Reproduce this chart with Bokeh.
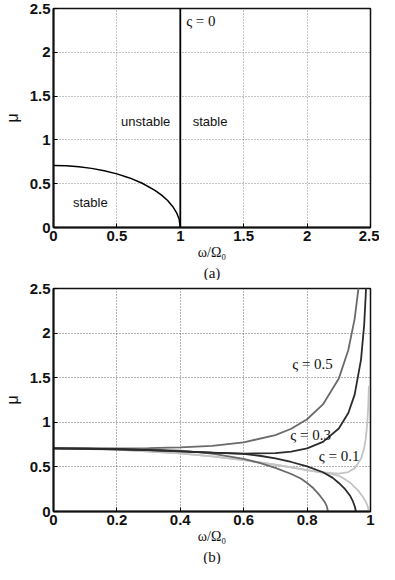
from bokeh.plotting import figure
from bokeh.layouts import column
from bokeh.models import Range1d, FixedTicker, Label, Title
from bokeh.embed import file_html
from bokeh.resources import INLINE

# ---------------- data: panel (a), zeta = 0 ----------------
xa_ticks = [0, 0.5, 1, 1.5, 2, 2.5]
xa_tick_labels = ["0", "0.5", "1", "1.5", "2", "2.5"]
y_ticks = [0, 0.5, 1, 1.5, 2, 2.5]
y_tick_labels = ["0", "0.5", "1", "1.5", "2", "2.5"]

x_s0 = [0, 0.1, 0.2, 0.3, 0.4, 0.5, 0.6, 0.7, 0.8, 0.85, 0.9, 0.94, 0.97, 0.99, 1.0]
mu_s0 = [0.707, 0.704, 0.693, 0.675, 0.648, 0.612, 0.566, 0.505, 0.424, 0.372, 0.308, 0.241, 0.171, 0.10, 0.0]
x_vert = [1, 1]
mu_vert = [0, 2.5]

# ---------------- data: panel (b) ----------------
xb_ticks = [0, 0.2, 0.4, 0.6, 0.8, 1]
xb_tick_labels = ["0", "0.2", "0.4", "0.6", "0.8", "1"]

x_s05_up = [0, 0.2, 0.3, 0.4, 0.5, 0.6, 0.7, 0.75, 0.8, 0.85, 0.9, 0.93, 0.95, 0.963, 0.97]
mu_s05_up = [0.707, 0.708, 0.710, 0.718, 0.736, 0.775, 0.857, 0.928, 1.034, 1.20, 1.49, 1.81, 2.16, 2.53, 2.8]
x_s05_lo = [0, 0.1, 0.2, 0.3, 0.4, 0.5, 0.6, 0.65, 0.7, 0.75, 0.78, 0.8, 0.82, 0.84, 0.855, 0.862, 0.866]
mu_s05_lo = [0.707, 0.706, 0.703, 0.696, 0.682, 0.65, 0.59, 0.545, 0.49, 0.42, 0.37, 0.32, 0.26, 0.18, 0.11, 0.06, 0.0]

x_s03_up = [0, 0.2, 0.3, 0.4, 0.5, 0.6, 0.7, 0.75, 0.8, 0.85, 0.9, 0.93, 0.95, 0.97, 0.98, 0.985, 0.987]
mu_s03_up = [0.707, 0.698, 0.688, 0.674, 0.66, 0.649, 0.654, 0.671, 0.707, 0.78, 0.93, 1.105, 1.31, 1.70, 2.09, 2.43, 2.61]
x_s03_lo = [0, 0.1, 0.2, 0.3, 0.4, 0.5, 0.6, 0.65, 0.7, 0.75, 0.8, 0.85, 0.88, 0.9, 0.92, 0.935, 0.945, 0.951, 0.954]
mu_s03_lo = [0.707, 0.705, 0.698, 0.688, 0.674, 0.66, 0.645, 0.625, 0.595, 0.555, 0.505, 0.44, 0.38, 0.32, 0.25, 0.18, 0.11, 0.05, 0.0]

x_s01_up = [0, 0.2, 0.4, 0.5, 0.6, 0.7, 0.75, 0.8, 0.85, 0.9, 0.93, 0.95, 0.97, 0.98, 0.985, 0.99, 0.993, 0.995]
mu_s01_up = [0.707, 0.693, 0.651, 0.618, 0.576, 0.524, 0.494, 0.464, 0.437, 0.425, 0.442, 0.484, 0.59, 0.71, 0.817, 1.0, 1.19, 1.41]
x_s01_lo = [0, 0.2, 0.4, 0.5, 0.6, 0.7, 0.75, 0.8, 0.85, 0.88, 0.9, 0.92, 0.94, 0.96, 0.975, 0.985, 0.991, 0.995]
mu_s01_lo = [0.707, 0.693, 0.651, 0.618, 0.576, 0.524, 0.494, 0.464, 0.437, 0.42, 0.40, 0.36, 0.31, 0.24, 0.17, 0.11, 0.06, 0.0]

x_axis_label = "ω/Ω₀"
y_axis_label = "μ"

TICK_FONT = "Liberation Sans"
SERIF = "Liberation Serif"


def style(p, xticks, xlabels, grid_color, grid_alpha, caption):
    p.background_fill_color = "white"
    p.border_fill_color = "white"
    p.outline_line_color = "#111111"
    p.outline_line_width = 1.5
    p.xaxis.ticker = FixedTicker(ticks=xticks)
    p.yaxis.ticker = FixedTicker(ticks=y_ticks)
    p.xaxis.major_label_overrides = dict(zip(xticks, xlabels))
    p.yaxis.major_label_overrides = dict(zip(y_ticks, y_tick_labels))
    for ax in (p.xaxis[0], p.yaxis[0]):
        ax.axis_line_width = 2
        ax.axis_line_color = "#111111"
        ax.major_tick_in = 4
        ax.major_tick_out = 0
        ax.minor_tick_line_color = None
        ax.major_label_text_font = TICK_FONT
        ax.major_label_text_font_size = "15px"
        ax.major_label_text_font_style = "bold"
        ax.major_label_text_color = "#111111"
    p.xaxis.major_label_standoff = 3
    p.yaxis.major_label_standoff = 3
    p.yaxis.axis_label = y_axis_label
    p.yaxis.axis_label_text_font = TICK_FONT
    p.yaxis.axis_label_text_font_size = "16px"
    p.yaxis.axis_label_text_font_style = "normal"
    p.yaxis.axis_label_standoff = 6
    p.yaxis.axis_label_text_color = "#111111"
    p.xaxis.axis_label = x_axis_label
    p.xaxis.axis_label_text_font = SERIF
    p.xaxis.axis_label_text_font_size = "14px"
    p.xaxis.axis_label_text_font_style = "normal"
    p.xaxis.axis_label_standoff = 1
    p.xaxis.axis_label_text_color = "#111111"
    p.grid.grid_line_color = grid_color
    p.grid.grid_line_alpha = grid_alpha
    p.grid.grid_line_dash = "1 2"
    p.grid.grid_line_width = 1
    p.add_layout(Title(text=caption, align="center", text_font=SERIF, text_font_size="15px",
                       text_font_style="normal", text_color="#111111", standoff=0), "below")


# ---------------- panel (a) ----------------
pa = figure(width=379, height=280, output_backend="svg", toolbar_location=None,
            x_range=Range1d(0, 2.5), y_range=Range1d(0, 2.5),
            min_border_left=44, min_border_right=9, min_border_top=8, min_border_bottom=10)
style(pa, xa_ticks, xa_tick_labels, "#666666", 0.8, "(a)")
pa.line(x_s0, mu_s0, line_color="black", line_width=1.5)
pa.line(x_vert, mu_vert, line_color="black", line_width=1.8)

pa.add_layout(Label(x=1.046, y=2.36, text="ς = 0", text_font=SERIF, text_font_size="15px",
                    text_align="left", text_baseline="middle", text_color="#111111"))
pa.add_layout(Label(x=0.727, y=1.21, text="unstable", text_font=TICK_FONT, text_font_size="13px",
                    text_align="center", text_baseline="middle", text_color="#111111"))
pa.add_layout(Label(x=1.235, y=1.21, text="stable", text_font=TICK_FONT, text_font_size="13px",
                    text_align="center", text_baseline="middle", text_color="#111111"))
pa.add_layout(Label(x=0.29, y=0.29, text="stable", text_font=TICK_FONT, text_font_size="13px",
                    text_align="center", text_baseline="middle", text_color="#111111"))

# ---------------- panel (b) ----------------
pb = figure(width=379, height=284, output_backend="svg", toolbar_location=None,
            x_range=Range1d(0, 1), y_range=Range1d(0, 2.5),
            min_border_left=44, min_border_right=3, min_border_top=8, min_border_bottom=10)
style(pb, xb_ticks, xb_tick_labels, "#333333", 0.75, "(b)")

c05 = "#6a6a6a"
c03 = "#2b2b2b"
c01 = "#c4c4c4"
pb.line(x_s01_up, mu_s01_up, line_color=c01, line_width=1.8)
pb.line(x_s01_lo, mu_s01_lo, line_color=c01, line_width=1.8)
pb.line(x_s05_up, mu_s05_up, line_color=c05, line_width=1.8)
pb.line(x_s05_lo, mu_s05_lo, line_color=c05, line_width=1.8)
pb.line(x_s03_up, mu_s03_up, line_color=c03, line_width=1.8)
pb.line(x_s03_lo, mu_s03_lo, line_color=c03, line_width=1.8)

pb.add_layout(Label(x=0.753, y=1.65, text="ς = 0.5", text_font=SERIF, text_font_size="15px",
                    text_align="left", text_baseline="middle", text_color="#111111"))
pb.add_layout(Label(x=0.747, y=0.86, text="ς = 0.3", text_font=SERIF, text_font_size="15px",
                    text_align="left", text_baseline="middle", text_color="#111111"))
pb.add_layout(Label(x=0.837, y=0.62, text="ς = 0.1", text_font=SERIF, text_font_size="15px",
                    text_align="left", text_baseline="middle", text_color="#111111"))

layout = column(pa, pb, spacing=0)
open("out.html", "w").write(file_html(layout, INLINE))
